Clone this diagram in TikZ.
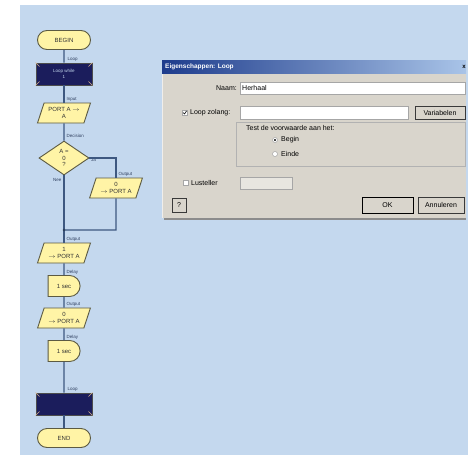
\documentclass[tikz,border=0pt]{standalone}
\usepackage{fontspec}
\setmainfont{Liberation Sans}
\usepackage{tikz}
\usetikzlibrary{calc,math,shapes.geometric,shapes.misc}
\definecolor{bgblue}{HTML}{C4D8EE}
\definecolor{flowyel}{HTML}{FFF4A6}
\definecolor{edge}{HTML}{5C5A42}
\definecolor{navy}{HTML}{1B1D5C}
\definecolor{linkcol}{HTML}{3E5880}
\definecolor{lbltxt}{HTML}{2F3F5F}
\definecolor{dlggray}{HTML}{D9D5CC}
\definecolor{titleL}{HTML}{1E3C8C}
\definecolor{titleR}{HTML}{A9C4E8}

\begin{document}
\begin{tikzpicture}
[x=1pt,y=-1pt,
flow/.style={draw=edge,fill=flowyel,line width=0.9pt,inner sep=0pt,align=center,text=black!80,font=\fontsize{6}{6.8}\selectfont},
term/.style={flow,rounded rectangle,minimum width=53pt,minimum height=19pt},
loopbox/.style={draw=gray!60!black,fill=navy,line width=0.9pt,inner sep=0pt,minimum width=56pt,minimum height=22pt,text=bgblue,align=center,font=\fontsize{4.5}{5.5}\selectfont},
io/.style={flow,trapezium,trapezium left angle=65,trapezium right angle=115,trapezium stretches=true,minimum width=53pt,minimum height=20pt},
dec/.style={flow,diamond,minimum width=50pt,minimum height=34pt},
delay/.style={flow,rounded rectangle,rounded rectangle left arc=none,minimum width=32pt,minimum height=21pt},
lbl/.style={font=\fontsize{4.5}{5}\selectfont,text=lbltxt,inner sep=0.5pt},
link/.style={draw=linkcol,line width=1.4pt},
dtxt/.style={font=\fontsize{7}{8}\selectfont,inner sep=0pt,text=black},
field/.style={fill=white,draw=gray!70,line width=0.5pt},
button/.style={fill=dlggray,draw=gray!45!black,line width=0.5pt,inner sep=0pt,font=\fontsize{7}{8}\selectfont},
]

%Background
\useasboundingbox (0,0) rectangle (468,455);
\fill[white] (0,0) rectangle (468,455);
\fill[bgblue] (20,5) rectangle (468,455);

%Flowchart icons
\node (begin) at (64,40)[term] {BEGIN};
\node (loopA) at (64,74)[loopbox,label={[lbl,anchor=south west,xshift=3pt]north:Loop}] {Loop while\\1};
\node (inp) at (64,113)[io,label={[lbl,anchor=south west,xshift=2pt]north:Input}] {PORT A $\to$\\A};
\node (ask) at (64,158)[dec,label={[lbl,anchor=south west,xshift=2pt,yshift=2pt]north:Decision},
  label={[lbl,anchor=north west,xshift=1pt]east:Ja},label={[lbl,anchor=north east,xshift=-2pt,yshift=-2pt]south:Nee}] {A =\\0\\?};
\node (outR) at (116,188)[io,label={[lbl,anchor=south west,xshift=2pt]north:Output}] {0\\$\to$ PORT A};
\coordinate (turn) at (116,230);
\coordinate (join) at (64,230);
\node (out1) at (64,253)[io,label={[lbl,anchor=south west,xshift=2pt]north:Output}] {1\\$\to$ PORT A};
\node (wait1) at (64,286)[delay,label={[lbl,anchor=south west,xshift=2pt]north:Delay}] {1 sec};
\node (out2) at (64,318)[io,label={[lbl,anchor=south west,xshift=2pt]north:Output}] {0\\$\to$ PORT A};
\node (wait2) at (64,351)[delay,label={[lbl,anchor=south west,xshift=2pt]north:Delay}] {1 sec};
\node (loopB) at (64,404)[loopbox,label={[lbl,anchor=south west,xshift=3pt]north:Loop}] {};
\node (end) at (64,438)[term] {END};

%Loop corner marks
\foreach \lp in {loopA,loopB}{
  \draw[brown!60,line width=0.5pt] (\lp.north west) -- ++(4,4);
  \draw[brown!60,line width=0.5pt] (\lp.north east) -- ++(-4,4);
  \draw[brown!60,line width=0.5pt] (\lp.south west) -- ++(4,-4);
  \draw[brown!60,line width=0.5pt] (\lp.south east) -- ++(-4,-4);
}

%Connections
\draw[link] (begin) -- (loopA);
\draw[link] (loopA) -- (inp);
\draw[link] (inp) -- (ask);
\draw[link] (ask.south) -- (join) -- (out1);
\draw[link] (ask.east) -| (outR.north);
\draw[link] (outR.south) -- (turn) -- (join);
\fill[linkcol!70!black] (join) circle (1.3);
\draw[link] (out1) -- (wait1);
\draw[link] (wait1) -- (out2);
\draw[link] (out2) -- (wait2);
\draw[link] (wait2) -- (loopB);
\draw[link] (loopB) -- (end);

%Dialog window
\tikzmath{\dl=162; \dr=466; \dt=60; \db=218;}
\fill[black!45] (\dl+2,\db) rectangle (\dr,\db+2);
\fill[dlggray] (\dl,\dt) rectangle (\dr,\db);
\draw[white!60!dlggray,line width=1pt] (\dl+0.5,\db) -- (\dl+0.5,\dt);
\shade[left color=titleL,right color=titleR] (\dl,\dt) rectangle (\dr,73);
\node (title) at (\dl+3,66.5)[anchor=west,inner sep=0pt,text=white,font=\bfseries\fontsize{6.5}{7}\selectfont] {Eigenschappen: Loop};
\node (close) at (\dr-2,66.5)[inner sep=0pt,font=\bfseries\fontsize{6}{6}\selectfont] {x};

\node (naamlbl) at (237,88)[dtxt,anchor=east] {Naam:};
\draw[field] (240,82) rectangle (\dr-1,94);
\node (naam) at (242,88)[dtxt,anchor=west] {Herhaal};

\draw[field] (182,110) rectangle (187,115);
\draw[black,line width=0.6pt] (183,112.5) -- (184.5,114) -- (186.5,111);
\node (lwlbl) at (190,112.5)[dtxt,anchor=west] {Loop zolang:};
\draw[field] (240,106) rectangle (408,119);
\node (varbtn) at (440,112.5)[button,minimum width=50pt,minimum height=13pt] {Variabelen};

\draw[gray!60,line width=0.5pt] (236,122) rectangle (465,166);
\node (test) at (246,128)[dtxt,anchor=west] {Test de voorwaarde aan het:};
\draw[field] (275,140) circle (2.5);
\fill[black] (275,140) circle (1.1);
\node (begintxt) at (281,140)[dtxt,anchor=west] {Begin};
\draw[field] (275,154) circle (2.5);
\node (eindetxt) at (281,154)[dtxt,anchor=west] {Einde};

\draw[field] (183,180) rectangle (188,185);
\node (telr) at (191,182.5)[dtxt,anchor=west] {Lusteller};
\draw[field,fill=dlggray!60!white] (240,177) rectangle (292,189);

\node (help) at (179,205)[button,minimum width=14pt,minimum height=14pt] {?};
\node (okbtn) at (387.5,205)[button,draw=black,line width=1pt,minimum width=51pt,minimum height=16pt] {OK};
\node (cancel) at (441,205)[button,minimum width=46pt,minimum height=16pt] {Annuleren};

\end{tikzpicture}
\end{document}
